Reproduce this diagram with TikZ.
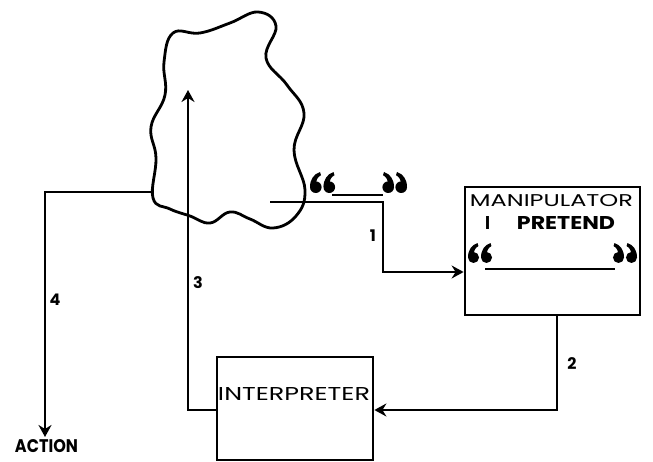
\documentclass[tikz,border=0pt]{standalone}
\usepackage{fontspec}
\setmainfont{Poppins}
\usetikzlibrary{arrows.meta}
\begin{document}
\begin{tikzpicture}[x=1pt,y=-1pt,
  ln/.style={line width=2.8pt},
  arr/.style={ln,-{Stealth[length=12pt,width=13pt,inset=4pt]}},
  boxn/.style={draw,ln,inner sep=0pt},
  txt/.style={inner sep=0pt,outer sep=0pt},
  num/.style={inner sep=0pt,font=\fontsize{16}{16}\selectfont\bfseries},
  six/.pic={
    \fill (5.8,-5.8) circle[radius=5.8];
    \fill (0,-5.8) .. controls (0,-14) and (4,-19) .. (10,-21) -- (11,-17.8)
          .. controls (7.5,-16) and (6,-13) .. (6,-8) -- (5.8,-5.8) -- cycle;
  }
]
\useasboundingbox (0,0) rectangle (653,462);

% cloud
\draw[ln] plot[smooth cycle, tension=0.7] coordinates {
 (173,33) (200,33) (230,23) (258,12) (276,26) (266,58) (287,85) (304,113)
 (294,150) (305,190) (296,216) (273,228) (250,219) (230,212) (210,223)
 (190,216) (170,209) (153,198) (156,158) (151,127) (165,95) (164,62)};

% boxes
\node[boxn, minimum width=175pt, minimum height=128pt] (manip) at (552.5,251) {};
\node[boxn, minimum width=156pt, minimum height=103pt] (interp) at (295,408.5) {};

% texts
\node[txt] (tman) at (551.5,201) {\resizebox{163pt}{12pt}{MANIPULATOR}};
\node[txt] (ti) at (487.5,223.5) {\resizebox{5pt}{13pt}{\bfseries I}};
\node[txt] (tpre) at (566,223.5) {\resizebox{98pt}{13pt}{\bfseries PRETEND}};
\node[txt] (tint) at (294,393.5) {\resizebox{152pt}{13pt}{INTERPRETER}};
\node[txt] (action) at (46.5,446.5) {\resizebox{63pt}{13pt}{\bfseries ACTION}};

% quotes outside
\pic at (310,193) {six};
\pic at (323.5,193) {six};
\pic[xscale=-1] at (394,193) {six};
\pic[xscale=-1] at (407,193) {six};
\coordinate (u1a) at (332,195);
\coordinate (u1b) at (383,195);
\draw[ln] (u1a) -- (u1b);

% quotes in manipulator
\pic[scale=0.95] at (468,263) {six};
\pic[scale=0.95] at (481,263) {six};
\pic[xscale=-0.95,yscale=0.95] at (624,263) {six};
\pic[xscale=-0.95,yscale=0.95] at (637,263) {six};
\coordinate (u2a) at (485,269);
\coordinate (u2b) at (615,269);
\draw[ln] (u2a) -- (u2b);

% connectors
\coordinate (c1) at (270,202);
\coordinate (k1) at (383,272);
\draw[arr] (c1) -| (k1) -- (k1 -| manip.west);

\coordinate (k2) at (557,410);
\draw[arr] (k2 |- manip.south) -- (k2) -- (k2 -| interp.east);

\coordinate (k3) at (188,410);
\coordinate (t3) at (188,90);
\draw[arr] (k3 -| interp.west) -- (k3) -- (t3);

\coordinate (c4) at (152,192);
\coordinate (t4) at (45,437);
\draw[arr] (c4) -| (t4);

% numbers
\node[num] (n1) at (373,236) {1};
\node[num] (n2) at (572,364) {2};
\node[num] (n3) at (198,283) {3};
\node[num] (n4) at (55,300) {4};
\end{tikzpicture}
\end{document}
